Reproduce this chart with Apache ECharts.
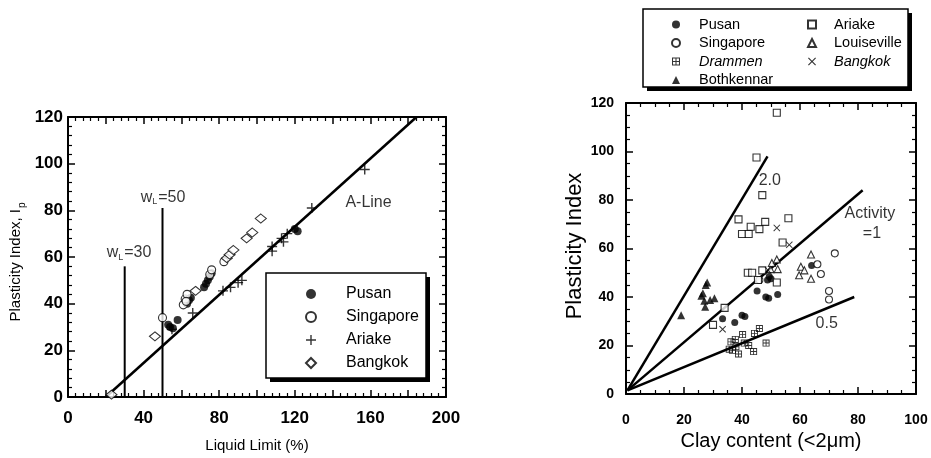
<!DOCTYPE html>
<html><head><meta charset="utf-8">
<script src="https://cdn.jsdelivr.net/npm/echarts@6/dist/echarts.min.js"></script>
<style>html,body{margin:0;padding:0;background:#fff}#c{width:931px;height:458px}</style>
</head><body><div id="c"></div><script>
// ---------- Left panel: [Liquid limit (%), Plasticity index] ----------
const leftPusan = [[53,31],[54,30],[55.5,29.5],[58,33],[63,40],[64,41.5],[65,42.5],[72,47],[73,48.5],[74,50],[75,51.5],[76,53],[120,72],[121.5,71]];
const leftSingapore = [[50,34],[61,39.5],[62,42],[63,44],[62.5,41],[75,52.5],[76,54.5],[82.5,58]];
const leftAriake = [[55,29],[66,36],[82,45.5],[86,47],[90,49],[92,50],[108,64.5],[108,62.5],[113,68],[114,66.5],[116,70],[129,81],[157,97.5]];
const leftBangkok = [[23,1],[46,26],[67.5,45.5],[84,59.5],[85.5,61],[87.5,63],[94.5,68],[97.5,70.5],[102,76.5]];
const aLine = [[20,0],[184.4,120]];
const wL30 = [[30,0],[30,56]];
const wL50 = [[50,0],[50,81]];
const leftTicksX = [0,40,80,120,160,200];

// ---------- Right panel: [Clay content (%), Plasticity index] ----------
const rightPusan = [[33.3,31],[37.5,29.5],[40,32.5],[41,32],[45.2,42.5],[48.2,40],[49.2,39.5],[52.3,41],[48.8,47],[49.4,48.5],[50,47.5],[64,53]];
const rightSingapore = [[46,47],[66,53.5],[67.2,49.5],[70,42.5],[70,39],[72,58]];
const rightDrammen = [[35.6,18.5],[36.2,21.5],[36.7,18],[37.7,22.5],[37.9,19.5],[38.8,16.5],[40.2,24.5],[40.8,21],[42.3,20],[44,17.5],[44.3,25],[46,27],[48.3,21]];
const rightBothkennar = [[19,32.5],[26,40.5],[26.5,41.5],[27,38.5],[27.3,36],[27.5,45],[28,46],[29,38.8],[30.5,39.5]];
const rightAriake = [[30,28.5],[34,35.5],[38.8,72],[40,66],[42.3,66],[43,69],[46,68],[48,71],[56,72.5],[54,62.5],[42,50],[43.5,50],[47,51],[45.5,47],[52,46],[45,97.5],[47,82],[52,116]];
const rightLouiseville = [[49.8,51.5],[50.3,54],[52,55.5],[52.3,51.5],[59.7,49],[60.3,52.5],[61.5,51],[63.8,57.5],[63.8,47.5]];
const rightBangkok = [[33.3,26.7],[49,51],[52,68.5],[56.3,61.5]];
const activity2 = [[0.5,1.5],[48.8,98]];
const activity1 = [[0.5,1.5],[81.6,84]];
const activity05 = [[0.5,1.5],[78.7,40]];

// annotation text anchors (data coordinates)
const leftNotes = [
  {value:[159,83.5], label:{formatter:'A-Line'}},
  {value:[32.3,61.7], label:{formatter:'{t|w}{s|L}{t|=30}'}},
  {value:[50.3,85.5], label:{formatter:'{t|w}{s|L}{t|=50}'}}
];
const rightNotes = [
  {value:[49.6,88.2], label:{formatter:'2.0'}},
  {value:[84.1,74.5], label:{formatter:'Activity'}},
  {value:[84.8,66.3], label:{formatter:'=1'}},
  {value:[69.2,28.9], label:{formatter:'0.5'}}
];

const FONT = '"Liberation Sans", Arial, Helvetica, sans-serif';
const PLUS = 'path://M4.3,0H5.7V4.3H10V5.7H5.7V10H4.3V5.7H0V4.3H4.3Z';
const CROSS = 'path://M0,1L1,0L5,4L9,0L10,1L6,5L10,9L9,10L5,6L1,10L0,9L4,5Z';
const GRIDSQ = 'path://M0,0H10V10H0Z M1.3,1.3V4.35H4.35V1.3Z M5.65,1.3V4.35H8.7V1.3Z M1.3,5.65V8.7H4.35V5.65Z M5.65,5.65V8.7H8.7V5.65Z';

function sc(name, data, symbol, size, filled, xi, yi){
  return {type:'scatter', name, data, symbol, symbolSize:size, xAxisIndex:xi, yAxisIndex:yi,
    itemStyle: filled ? {color:'#000'} : {color:'#fff', borderColor:'#000', borderWidth:1.1},
    z:3, silent:true};
}
function ln(data, xi, yi, w){
  return {type:'line', data, xAxisIndex:xi, yAxisIndex:yi, symbol:'none', silent:true,
    lineStyle:{color:'#000', width:w||2}, z:2};
}
function notes(data, xi, yi, fs){
  return {type:'scatter', data, xAxisIndex:xi, yAxisIndex:yi, symbolSize:0, silent:true, z:4,
    label:{show:true, position:'inside', color:'#000', fontFamily:FONT, fontSize:fs,
      rich:{t:{fontSize:fs, fontFamily:FONT, color:'#000'}, s:{fontSize:9, fontFamily:FONT, color:'#000', padding:[9,1,0,0]}}}};
}
function axis(type, gi, pos, min, max, interval, split, labels, lab){
  const a = {type:'value', gridIndex:gi, position:pos, min, max, interval,
    axisLine:{show:true, onZero:false, lineStyle:{color:'#000', width:2}},
    axisTick:{show:true, inside:true, length:7, lineStyle:{color:'#000', width:1.5}},
    minorTick:{show:true, splitNumber:split, length:4, lineStyle:{color:'#000', width:1.2}},
    splitLine:{show:false}, minorSplitLine:{show:false},
    axisLabel:{show:labels}};
  if (labels) Object.assign(a.axisLabel, lab);
  return a;
}

const chart = echarts.init(document.getElementById('c'), null, {renderer:'canvas'});
const option = {
  animation:false,
  backgroundColor:'#fff',
  grid:[
    {left:68, top:117, width:378, height:282},
    {left:626, top:103, width:290, height:291}
  ],
  xAxis:[
    Object.assign(axis('x',0,'bottom',0,200,20,5,true,{margin:13, color:'#000', fontSize:17, fontWeight:'bold', fontFamily:FONT,
      formatter:v=> leftTicksX.indexOf(v)>=0 ? String(v) : ''}),
      {name:'Liquid Limit (%)', nameLocation:'middle', nameGap:41, nameTextStyle:{fontSize:15, fontFamily:FONT, color:'#000'}}),
    axis('x',0,'top',0,200,20,5,false),
    Object.assign(axis('x',1,'bottom',0,100,20,4,true,{margin:19, color:'#000', fontSize:14, fontWeight:'bold', fontFamily:FONT}),
      {name:'Clay content (<2\u03bcm)', nameLocation:'middle', nameGap:29, nameTextStyle:{fontSize:20, fontFamily:FONT, color:'#000'}}),
    axis('x',1,'top',0,100,20,4,false)
  ],
  yAxis:[
    axis('y',0,'left',0,120,20,5,true,{margin:5, color:'#000', fontSize:17, fontWeight:'bold', fontFamily:FONT}),
    axis('y',0,'right',0,120,20,5,false),
    axis('y',1,'left',0,120,20,4,true,{margin:12, color:'#000', fontSize:14, fontWeight:'bold', fontFamily:FONT}),
    axis('y',1,'right',0,120,20,4,false)
  ],
  legend:[
    {data:['Pusan','Singapore','Ariake','Bangkok'], orient:'vertical', left:305, top:286, padding:0,
     itemWidth:10, itemHeight:10, itemGap:7, selectedMode:false, z:10,
     textStyle:{fontSize:16, lineHeight:16, fontFamily:FONT, color:'#000', padding:[0,0,0,25]}},
    {data:['Pusan ','Singapore ',{name:'Drammen ', textStyle:{fontStyle:'italic'}},'Bothkennar '], orient:'vertical', left:671, top:17, padding:0,
     itemWidth:8, itemHeight:8, itemGap:3.5, selectedMode:false, z:10, formatter:n=>n.trim(),
     textStyle:{fontSize:14.5, lineHeight:14, fontFamily:FONT, color:'#000', padding:[0,0,0,14]}},
    {data:['Ariake ','Louiseville ',{name:'Bangkok ', textStyle:{fontStyle:'italic'}}], orient:'vertical', left:807, top:17, padding:0,
     itemWidth:8, itemHeight:8, itemGap:3.5, selectedMode:false, z:10, formatter:n=>n.trim(),
     textStyle:{fontSize:14.5, lineHeight:14, fontFamily:FONT, color:'#000', padding:[0,0,0,13]}}
  ],
  graphic:[
    {type:'rect', z:5, shape:{x:270, y:277, width:160, height:105}, style:{fill:'#000'}},
    {type:'rect', z:6, shape:{x:266, y:273, width:160, height:105}, style:{fill:'#fff', stroke:'#000', lineWidth:1.5}},
    {type:'rect', z:5, shape:{x:647, y:13, width:265, height:78}, style:{fill:'#000'}},
    {type:'rect', z:6, shape:{x:643, y:9, width:265, height:78}, style:{fill:'#fff', stroke:'#000', lineWidth:1.5}},
    {type:'text', z:6, x:16, y:262, rotation:Math.PI/2,
     style:{text:'{t|Plasticity Index, I}{s|p}', align:'center', verticalAlign:'middle', fill:'#000',
       rich:{t:{fontSize:15, fontFamily:FONT, fill:'#000'}, s:{fontSize:10, fontFamily:FONT, fill:'#000', padding:[12,0,0,1]}}}},
    {type:'text', z:6, x:575, y:246, rotation:Math.PI/2,
     style:{text:'Plasticity Index', align:'center', verticalAlign:'middle', fill:'#000', fontSize:22, fontFamily:FONT}}
  ],
  series:[
    ln(aLine,0,0,2.5), ln(wL30,0,0,2), ln(wL50,0,0,2),
    sc('Pusan', leftPusan, 'circle', 8, true, 0, 0),
    sc('Singapore', leftSingapore, 'circle', 8, false, 0, 0),
    sc('Ariake', leftAriake, PLUS, 10, true, 0, 0),
    sc('Bangkok', leftBangkok, 'diamond', [11,9], false, 0, 0),
    notes(leftNotes, 0, 0, 16),
    ln(activity2,2,2,2.5), ln(activity1,2,2,2.5), ln(activity05,2,2,2.5),
    sc('Pusan ', rightPusan, 'circle', 7, true, 2, 2),
    sc('Singapore ', rightSingapore, 'circle', 7, false, 2, 2),
    sc('Drammen ', rightDrammen, GRIDSQ, 7, true, 2, 2),
    sc('Bothkennar ', rightBothkennar, 'triangle', 8, true, 2, 2),
    sc('Ariake ', rightAriake, 'rect', 7, false, 2, 2),
    sc('Louiseville ', rightLouiseville, 'triangle', 7, false, 2, 2),
    sc('Bangkok ', rightBangkok, CROSS, 7, true, 2, 2),
    notes(rightNotes, 2, 2, 16)
  ]
};
chart.setOption(option);
</script></body></html>
